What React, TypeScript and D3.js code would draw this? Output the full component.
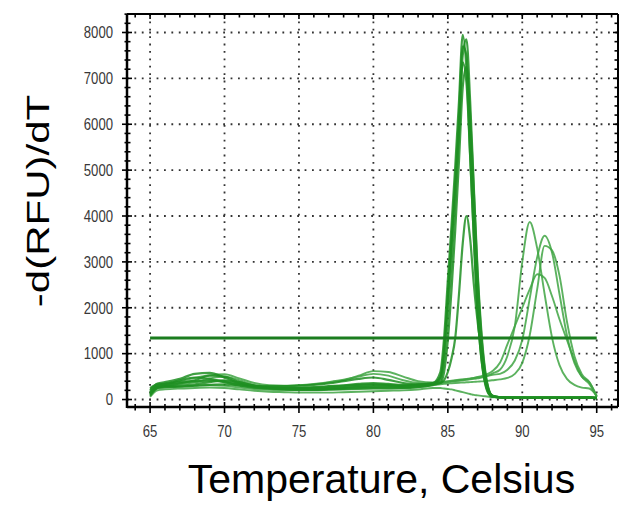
import React, { useEffect, useRef } from 'react';
import * as d3 from 'd3';

// temperature grid (Celsius) shared by all melt curves
const temps = [
  65, 65.5, 66, 67, 68, 69, 70, 71, 72, 73, 74, 75, 76, 77, 78, 79, 80, 81, 82, 83, 84,
  84.5, 84.75, 85, 85.25, 85.5, 85.75, 86, 86.25, 86.5, 86.75, 87, 87.25, 87.5, 87.75, 88,
  88.5, 89, 89.5, 90, 90.5, 91, 91.5, 92, 92.5, 93, 93.5, 94, 94.5, 95,
];

// -d(RFU)/dT, product peaking near 86 C
const peakA1 = [
  120, 300, 330, 420, 480, 450, 380, 300, 260, 240, 230, 230, 240, 250, 270, 300, 320, 310, 300, 320, 360,
  600, 1350, 2600, 3800, 5100, 6500, 7950, 7200, 5300, 3500, 1900, 900, 350, 120, 60,
  45, 40, 40, 40, 40, 40, 40, 40, 40, 40, 40, 40, 45, 35,
];
const peakA2 = [
  80, 260, 300, 350, 420, 520, 500, 380, 300, 260, 250, 250, 260, 280, 300, 320, 330, 320, 300, 310, 340,
  420, 850, 1800, 3000, 4300, 5800, 7500, 7850, 6500, 4600, 2800, 1500, 650, 220, 80,
  50, 45, 45, 40, 40, 40, 40, 40, 40, 40, 40, 45, 50, 40,
];
const peakA3 = [
  200, 350, 380, 450, 560, 580, 480, 350, 280, 260, 250, 260, 270, 290, 310, 340, 360, 340, 320, 320, 350,
  500, 1100, 2300, 3500, 4800, 6200, 7700, 7500, 5800, 3900, 2100, 1000, 400, 140, 60,
  50, 40, 40, 40, 35, 35, 35, 35, 35, 35, 35, 40, 40, 30,
];
const peakA4 = [
  150, 280, 290, 300, 330, 380, 420, 380, 300, 250, 230, 220, 220, 230, 250, 270, 280, 280, 270, 290, 330,
  480, 1050, 2200, 3400, 4600, 5900, 7350, 6900, 5300, 3500, 1900, 900, 380, 130, 60,
  45, 40, 40, 40, 40, 40, 40, 40, 40, 40, 40, 40, 40, 30,
];
const peakA5 = [
  100, 250, 270, 280, 300, 320, 330, 310, 270, 240, 220, 210, 210, 220, 230, 240, 250, 250, 250, 270, 320,
  360, 600, 1300, 2400, 3700, 5200, 6800, 7250, 6200, 4500, 2700, 1400, 600, 200, 80,
  50, 45, 40, 40, 40, 40, 40, 40, 40, 40, 40, 40, 40, 30,
];
const peakA6 = [
  250, 330, 340, 380, 400, 420, 400, 340, 300, 290, 290, 300, 320, 350, 400, 450, 480, 430, 360, 330, 340,
  360, 420, 600, 900, 1350, 2300, 3400, 4000, 3500, 2500, 1700, 1100, 550, 200, 80,
  50, 45, 40, 40, 40, 40, 40, 40, 40, 40, 40, 40, 40, 30,
];

// products peaking near 90.5 - 91.7 C
const peakB1 = [
  180, 300, 320, 360, 380, 400, 380, 330, 290, 280, 290, 310, 340, 380, 430, 500, 560, 520, 420, 360, 350,
  360, 370, 380, 390, 400, 410, 420, 430, 440, 450, 460, 480, 500, 530, 570,
  650, 950, 1600, 3000, 3870, 3300, 2300, 1350, 750, 450, 320, 260, 240, 80,
];
const peakB2 = [
  220, 320, 350, 400, 470, 530, 550, 460, 360, 310, 300, 310, 330, 370, 420, 520, 620, 600, 500, 400, 370,
  380, 390, 400, 410, 420, 430, 440, 450, 460, 470, 480, 490, 500, 520, 540,
  560, 650, 850, 1300, 2200, 3100, 3570, 3200, 2300, 1400, 800, 500, 380, 80,
];
const peakB3 = [
  130, 240, 260, 280, 300, 310, 300, 260, 230, 210, 200, 200, 200, 210, 220, 230, 240, 240, 250, 270, 310,
  330, 340, 350, 355, 360, 365, 370, 375, 380, 385, 390, 395, 400, 410, 420,
  440, 470, 560, 800, 1400, 2400, 3350, 3250, 2700, 1700, 950, 550, 380, 60,
];
const peakB4 = [
  160, 270, 300, 330, 380, 460, 500, 420, 320, 270, 250, 240, 240, 250, 260, 270, 280, 290, 300, 320, 360,
  370, 380, 390, 400, 410, 420, 430, 440, 450, 470, 490, 510, 540, 570, 620,
  800, 1200, 1600, 2000, 2400, 2730, 2650, 2250, 1750, 1300, 850, 500, 340, 60,
];
// no-template control
const flatN1 = [
  60, 200, 220, 240, 250, 260, 250, 220, 190, 170, 160, 150, 150, 150, 160, 170, 180, 190, 200, 220, 250,
  250, 240, 230, 220, 200, 180, 160, 140, 120, 100, 90, 80, 70, 60, 50,
  45, 40, 40, 40, 40, 40, 40, 40, 40, 40, 40, 40, 40, 30,
];

const threshold = 1340;
const xTickValues = [65, 70, 75, 80, 85, 90, 95];
const yTickValues = [0, 1000, 2000, 3000, 4000, 5000, 6000, 7000, 8000];

const lightCurves = [peakB1, peakB2, peakB3, peakB4, flatN1];
const darkCurves = [peakA6, peakA5, peakA4, peakA3, peakA2, peakA1];

export default function App() {
  const svgRef = useRef<SVGSVGElement>(null);

  useEffect(() => {
    document.body.style.margin = '0';
    const svg = d3.select(svgRef.current);
    svg.selectAll('*').remove();

    const left = 127, right = 618, top = 14, bottom = 407;
    const x = d3.scaleLinear().domain([63.45, 96.43]).range([left, right]);
    const y = d3.scaleLinear().domain([-163, 8403]).range([bottom, top]);

    svg.append('rect').attr('width', 632).attr('height', 505).attr('fill', '#fff');

    // dotted grid
    const grid = svg.append('g')
      .attr('stroke', '#333')
      .attr('stroke-width', 1.8)
      .attr('stroke-dasharray', '1.8,5.6');
    grid.selectAll('.gx').data(xTickValues).enter().append('line')
      .attr('x1', d => x(d)).attr('x2', d => x(d))
      .attr('y1', top).attr('y2', bottom);
    grid.selectAll('.gy').data(yTickValues).enter().append('line')
      .attr('x1', left).attr('x2', right)
      .attr('y1', d => y(d)).attr('y2', d => y(d));

    // curves
    const line = d3.line<number>()
      .x((d, i) => x(temps[i]))
      .y(d => y(d))
      .curve(d3.curveMonotoneX);

    svg.append('g').selectAll('path').data(lightCurves).enter().append('path')
      .attr('d', d => line(d))
      .attr('fill', 'none')
      .attr('stroke', '#3fa543')
      .attr('stroke-opacity', 0.85)
      .attr('stroke-width', 1.9);

    svg.append('g').selectAll('path').data(darkCurves).enter().append('path')
      .attr('d', d => line(d))
      .attr('fill', 'none')
      .attr('stroke', '#1f8f22')
      .attr('stroke-opacity', 0.85)
      .attr('stroke-width', 2.2);

    // threshold line
    svg.append('line')
      .attr('x1', x(65)).attr('x2', x(95))
      .attr('y1', y(threshold)).attr('y2', y(threshold))
      .attr('stroke', '#1b7d1f')
      .attr('stroke-width', 3);

    // frame
    const frame = svg.append('g').attr('stroke', '#000');
    frame.append('line').attr('x1', left).attr('x2', left).attr('y1', top).attr('y2', bottom + 1).attr('stroke-width', 2.5);
    frame.append('line').attr('x1', left).attr('x2', right).attr('y1', bottom).attr('y2', bottom).attr('stroke-width', 2.5);
    frame.append('line').attr('x1', left).attr('x2', right).attr('y1', top).attr('y2', top).attr('stroke-width', 2);
    frame.append('line').attr('x1', right).attr('x2', right).attr('y1', top).attr('y2', bottom).attr('stroke-width', 2);

    // tick marks
    const xMinor = d3.range(64, 97, 1);
    const yMinor = d3.range(0, 8401, 200);
    const ticks = svg.append('g').attr('stroke', '#000').attr('stroke-width', 1.6);
    ticks.selectAll('.xb').data(xMinor).enter().append('line')
      .attr('x1', d => x(d)).attr('x2', d => x(d))
      .attr('y1', d => bottom - (d % 5 === 0 ? 5 : 3))
      .attr('y2', d => bottom + (d % 5 === 0 ? 6 : 3.5));
    ticks.selectAll('.xt').data(xMinor).enter().append('line')
      .attr('x1', d => x(d)).attr('x2', d => x(d))
      .attr('y1', top).attr('y2', d => top + (d % 5 === 0 ? 5 : 3.5));
    ticks.selectAll('.yl').data(yMinor).enter().append('line')
      .attr('y1', d => y(d)).attr('y2', d => y(d))
      .attr('x1', d => left - (d % 1000 === 0 ? 5 : 2.5))
      .attr('x2', d => left + (d % 1000 === 0 ? 5 : 3.5));
    ticks.selectAll('.yr').data(yMinor).enter().append('line')
      .attr('y1', d => y(d)).attr('y2', d => y(d))
      .attr('x1', d => right - (d % 1000 === 0 ? 5 : 3.5))
      .attr('x2', right);

    // tick labels
    const font = '"Liberation Sans", Arial, sans-serif';
    svg.append('g').selectAll('text').data(yTickValues).enter().append('text')
      .attr('transform', d => `translate(113,${y(d)}) scale(0.82,1)`)
      .attr('dy', '0.36em')
      .attr('text-anchor', 'end')
      .attr('font-family', font)
      .attr('font-size', 16)
      .attr('fill', '#383838')
      .text(d => String(d));
    svg.append('g').selectAll('text').data(xTickValues).enter().append('text')
      .attr('transform', d => `translate(${x(d)},437) scale(0.82,1)`)
      .attr('text-anchor', 'middle')
      .attr('font-family', font)
      .attr('font-size', 16)
      .attr('fill', '#383838')
      .text(d => String(d));

    // axis titles
    svg.append('text')
      .attr('transform', 'translate(49,201) scale(0.74,1) rotate(-90)')
      .attr('text-anchor', 'middle')
      .attr('font-family', font)
      .attr('font-size', 42)
      .attr('fill', '#000')
      .text('-d(RFU)/dT');
    svg.append('text')
      .attr('x', 381.5).attr('y', 493)
      .attr('text-anchor', 'middle')
      .attr('font-family', font)
      .attr('font-size', 41)
      .attr('fill', '#000')
      .text('Temperature, Celsius');
  }, []);

  return <svg ref={svgRef} width={632} height={505} style={{ display: 'block' }} />;
}
